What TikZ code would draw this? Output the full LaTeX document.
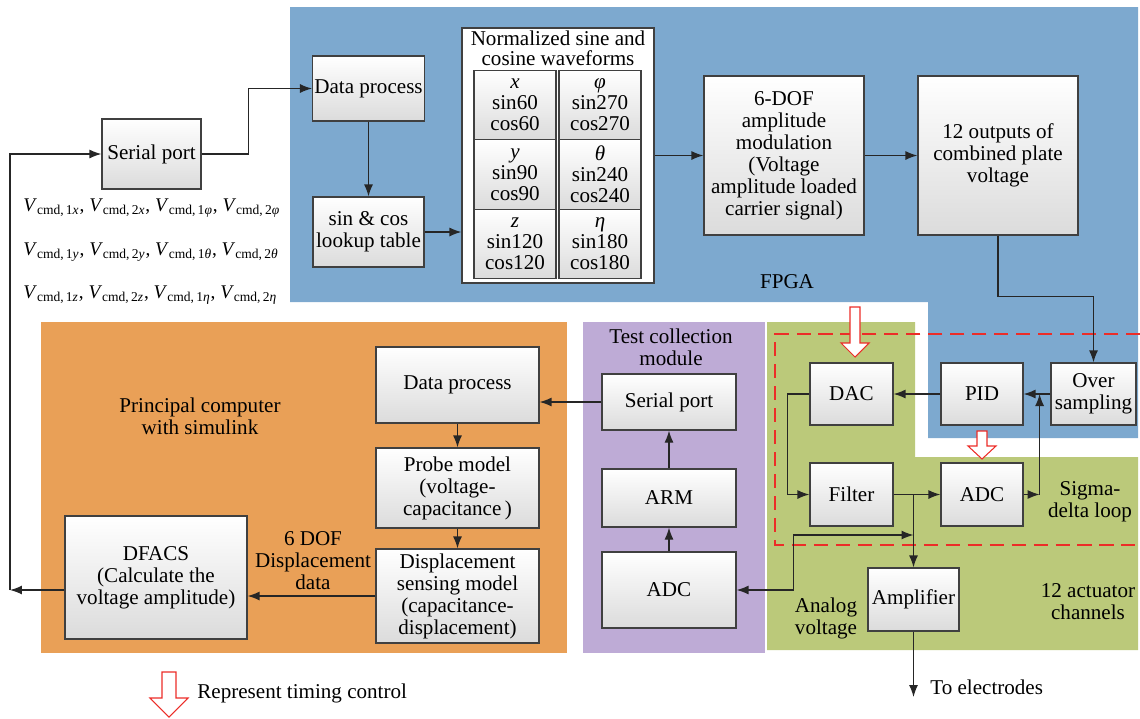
\documentclass[tikz,border=0pt]{standalone}
\usepackage{fontspec}
\setmainfont{Liberation Serif}
\usetikzlibrary{arrows.meta,positioning,calc}

\definecolor{fpgablue}{RGB}{125,169,207}
\definecolor{pcorange}{RGB}{233,160,87}
\definecolor{tcpurple}{RGB}{190,171,214}
\definecolor{actgreen}{RGB}{187,201,122}
\definecolor{tmred}{RGB}{236,45,40}

\newcommand{\vcmd}[2]{\textit{V}\textsubscript{cmd,\,#1\textit{#2}}}
% open timing arrow: x, top, head start, tip, shaft half width, head half width
\newcommand{\tmarrow}[6]{%
  \draw[tmark] ({#1-#5},#2) -- ({#1+#5},#2) -- ({#1+#5},#3) -- ({#1+#6},#3) -- (#1,#4) -- ({#1-#6},#3) -- ({#1-#5},#3) -- cycle;}

\begin{document}
\begin{tikzpicture}[x=0.02cm, y=-0.02cm, font=\fontsize{12}{12.5}\selectfont,
  blk/.style={draw=black!75, line width=0.7pt, top color=white, bottom color=black!14, align=center, inner sep=1pt},
  cell/.style={blk, minimum width=1.64cm, minimum height=1.39cm, font=\fontsize{12}{12}\selectfont},
  arr/.style={-{Latex[length=2.4mm,width=1.8mm]}, line width=0.7pt, black!85},
  darr/.style={{Latex[length=2.4mm,width=1.8mm]}-{Latex[length=2.4mm,width=1.8mm]}, line width=0.7pt, black!85},
  lbl/.style={align=center, inner sep=0pt},
  vrow/.style={anchor=west, inner sep=0pt, font=\fontsize{11}{13}\selectfont},
  tmark/.style={draw=tmred, fill=white, line width=0.6pt},
  redloop/.style={draw=tmred, line width=1.2pt, dash pattern=on 8pt off 4.5pt}]

\useasboundingbox (0,0) rectangle (1140,718);

% areas
\fill[fpgablue] (290,7) -- (1138,7) -- (1138,438) -- (928,438) -- (928,302) -- (290,302) -- cycle;
\fill[actgreen] (767,322) -- (915,322) -- (915,457) -- (1138,457) -- (1138,650) -- (767,650) -- cycle;
\fill[tcpurple] (583,322) rectangle (765,653);
\fill[pcorange] (41,322) rectangle (567,653);
\draw[redloop] (1140,334) -- (775,334) -- (775,545) -- (1140,545);

% FPGA
\node[blk, minimum width=1.98cm, minimum height=1.4cm] (sp1) at (151.5,154) {Serial port};
\node[blk, minimum width=2.22cm, minimum height=1.3cm] (dpf) at (368.5,88.5) {Data process};
\node[blk, minimum width=2.22cm, minimum height=1.4cm] (lut) at (368.5,232) {sin \& cos\\lookup table};
\node[draw=black!75, line width=0.7pt, fill=white, minimum width=3.84cm, minimum height=5.1cm] (norm) at (558,155.5) {};
\node[lbl, font=\fontsize{12}{11.5}\selectfont] (normt) at (558,48) {Normalized sine and\\cosine waveforms};
\node[cell] (cx) at (515,105) {\textit{x}\\sin60\\cos60};
\node[cell] (cphi) at (600,105) {\textit{φ}\\sin270\\cos270};
\node[cell] (cy) at (515,174.5) {\textit{y}\\sin90\\cos90};
\node[cell] (ctheta) at (600,174.5) {\textit{θ}\\sin240\\cos240};
\node[cell] (cz) at (515,244) {\textit{z}\\sin120\\cos120};
\node[cell] (ceta) at (600,244) {\textit{η}\\sin180\\cos180};
\node[blk, minimum width=3.2cm, minimum height=3.18cm] (dof) at (784,155.5) {6-DOF\\amplitude\\modulation\\(Voltage\\amplitude loaded\\carrier signal)};
\node[blk, minimum width=3.2cm, minimum height=3.18cm] (out12) at (998,155.5) {12 outputs of\\combined plate\\voltage};
\node[lbl] (fpga) at (787,282) {FPGA};

\node[vrow] (vr1) at (23,208) {\vcmd{1}{x}, \vcmd{2}{x}, \vcmd{1}{φ}, \vcmd{2}{φ}};
\node[vrow] (vr2) at (23,252) {\vcmd{1}{y}, \vcmd{2}{y}, \vcmd{1}{θ}, \vcmd{2}{θ}};
\node[vrow] (vr3) at (23,295) {\vcmd{1}{z}, \vcmd{2}{z}, \vcmd{1}{η}, \vcmd{2}{η}};

% sigma-delta loop and actuator channels
\node[blk, minimum width=1.66cm, minimum height=1.24cm] (dac) at (851.5,394) {DAC};
\node[blk, minimum width=1.64cm, minimum height=1.24cm] (pid) at (982,394) {PID};
\node[blk, minimum width=1.7cm, minimum height=1.24cm] (ovs) at (1093.5,394) {Over\\sampling};
\node[blk, minimum width=1.66cm, minimum height=1.26cm] (flt) at (851.5,494.5) {Filter};
\node[blk, minimum width=1.64cm, minimum height=1.26cm] (adcs) at (982,494.5) {ADC};
\node[blk, minimum width=1.82cm, minimum height=1.26cm] (amp) at (913.5,599.5) {Amplifier};
\node[lbl] (sigd) at (1090,502) {Sigma-\\delta loop};
\node[lbl] (anv) at (826,618) {Analog\\voltage};
\node[lbl] (act) at (1088,602) {12 actuator\\channels};
\node[lbl, anchor=west] (toel) at (930,687) {To electrodes};

% test collection module
\node[lbl] (tcm) at (671,347) {Test collection\\module};
\node[blk, minimum width=2.68cm, minimum height=1.12cm] (sp2) at (669,402) {Serial port};
\node[blk, minimum width=2.68cm, minimum height=1.16cm] (arm) at (669,498) {ARM};
\node[blk, minimum width=2.68cm, minimum height=1.52cm] (adct) at (669,590) {ADC};

% principal computer
\node[lbl] (pcl) at (200,416) {Principal computer\\with simulink};
\node[blk, minimum width=3.26cm, minimum height=1.52cm] (dp2) at (457.5,385) {Data process};
\node[blk, minimum width=3.26cm, minimum height=1.6cm] (probe) at (457.5,488) {Probe model\\(voltage-\\capacitance\,)};
\node[blk, minimum width=3.26cm, minimum height=1.88cm] (dsm) at (457.5,596) {Displacement\\sensing model\\(capacitance-\\displacement)};
\node[blk, minimum width=3.64cm, minimum height=2.46cm] (dfacs) at (156,577.5) {DFACS\\(Calculate the\\voltage amplitude)};
\node[lbl] (dofd) at (313,561) {6 DOF\\Displacement\\data};

% timing control marks
\tmarrow{855}{307}{343}{357}{5}{14}
\tmarrow{982}{431}{446}{459}{5}{14}
\tmarrow{169}{672}{698}{717}{7}{19}
\node[lbl, anchor=west] (legend) at (197,693) {Represent timing control};

% connectors
\coordinate (lc) at (10,590);
\draw[arr] (dfacs.west |- lc) -- (lc);
\draw[arr] (lc) -- (lc |- sp1.west) -- (sp1.west);
\draw[arr] (sp1.east) -- ++(47,0) |- (dpf.west);
\draw[arr] (dpf) -- (lut);
\draw[arr] (lut.east) -- (lut.east -| norm.west);
\draw[arr] (norm) -- (dof);
\draw[arr] (dof) -- (out12);
\draw[arr] (out12.south) -- ++(0,61) -| (ovs.north);
\draw[arr] (ovs) -- (pid);
\draw[arr] (pid) -- (dac);
\draw[arr] (dac.west) -- ++(-22,0) |- (flt.west);
\draw[arr] (flt) -- (adcs);
\draw[arr] (adcs.east) -- ++(16,0) coordinate (fb);
\draw[arr] (fb) -- (fb |- ovs.west);
\draw[arr] (flt.east -| amp.north) -- (amp.north);
\coordinate (tap) at (913.5,535);
\draw[darr] (adct.east) -- ++(57,0) |- (tap);
\coordinate (elec) at (913.5,697);
\draw[arr] (amp) -- (elec);
\draw[arr] (sp2.west) -- (sp2.west -| dp2.east);
\draw[arr] (adct) -- (arm);
\draw[arr] (arm) -- (sp2);
\draw[arr] (dp2) -- (probe);
\draw[arr] (probe) -- (dsm);
\draw[arr] (dsm.west) -- (dsm.west -| dfacs.east);
\end{tikzpicture}
\end{document}
